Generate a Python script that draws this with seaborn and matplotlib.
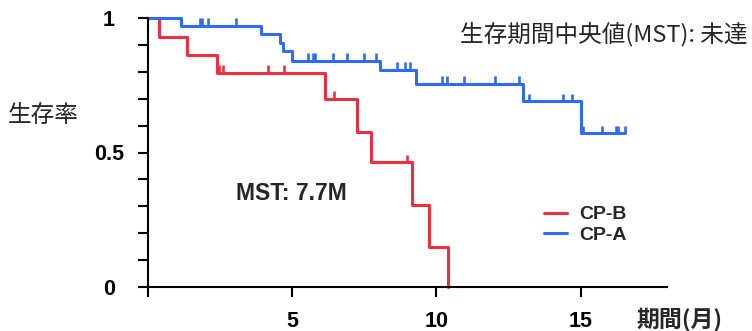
import numpy as np
import pandas as pd
import matplotlib
matplotlib.use('Agg')
import matplotlib.pyplot as plt
import seaborn as sns

# 生存曲線
groups = ['CP-B', 'CP-A']
b_time = [0, 0.38, 1.36, 2.38, 6.14, 7.25, 7.73, 9.17, 9.74, 10.39]
b_surv = [1, 0.928, 0.861, 0.796, 0.699, 0.578, 0.463, 0.303, 0.150, 0]
b_cens = [2.46, 2.61, 4.15, 4.71, 6.45, 8.99]

a_time = [0, 1.14, 3.91, 4.58, 4.67, 4.98, 8.04, 9.29, 13.01, 15.03, 16.53]
a_surv = [1, 0.971, 0.942, 0.907, 0.876, 0.842, 0.808, 0.756, 0.690, 0.572, 0.572]
a_cens = [1.80, 1.88, 2.07, 3.04, 5.56, 5.71, 5.79, 6.42, 6.91, 7.49, 7.90,
          8.62, 8.91, 9.08, 10.18, 10.37, 10.96, 12.05, 12.87, 13.22, 14.39,
          14.69, 15.09, 15.76, 16.22, 16.30, 16.53]

x_ticks = [0, 5, 10, 15]
x_labels = ['', '5', '10', '15']
y_ticks = np.round(np.arange(0, 1.01, 0.1), 1)
y_labels = ['0', '', '', '', '', '0.5', '', '', '', '', '1']

palette = {'CP-B': '#ee2f42', 'CP-A': '#2f6cf2'}


def censor_level(times, survs, cens):
    # 打ち切り時点の生存率を階段関数から取る
    idx = np.searchsorted(times, cens, side='right') - 1
    return [survs[i] for i in idx]


def main():
    curves = pd.concat([
        pd.DataFrame({'time': b_time, 'surv': b_surv, 'group': 'CP-B'}),
        pd.DataFrame({'time': a_time, 'surv': a_surv, 'group': 'CP-A'}),
    ], ignore_index=True)
    cens = pd.concat([
        pd.DataFrame({'time': b_cens, 'surv': censor_level(b_time, b_surv, b_cens), 'group': 'CP-B'}),
        pd.DataFrame({'time': a_cens, 'surv': censor_level(a_time, a_surv, a_cens), 'group': 'CP-A'}),
    ], ignore_index=True)

    sns.set_style('white')
    plt.rcParams['font.family'] = ['Liberation Sans', 'Noto Sans CJK JP']

    fig = plt.figure(figsize=(7.52, 3.31), dpi=100)
    ax = fig.add_axes([148 / 752, 44 / 331, 519 / 752, 269 / 331])

    sns.lineplot(data=curves, x='time', y='surv', hue='group', hue_order=groups,
                 palette=palette, estimator=None, drawstyle='steps-post',
                 linewidth=2.2, clip_on=False, ax=ax)
    sns.scatterplot(data=cens, x='time', y='surv', hue='group', hue_order=groups,
                    palette=palette, marker=2, s=30, linewidth=1.9,
                    legend=False, clip_on=False, ax=ax)

    ax.set_xlim(0, 18)
    ax.set_ylim(0, 1)
    for s in ['top', 'right']:
        ax.spines[s].set_visible(False)
    for s in ['left', 'bottom']:
        ax.spines[s].set_color('black')
        ax.spines[s].set_linewidth(1.5)

    ax.set_xticks(x_ticks, x_labels, fontsize=15.5, fontweight='bold')
    ax.set_yticks(y_ticks, y_labels, fontsize=15.5, fontweight='bold')
    for lab in ax.get_yticklabels():
        lab.set_ha('center')
    ax.tick_params(axis='x', bottom=True, direction='out', length=7, width=1.5,
                   pad=10, colors='black')
    ax.tick_params(axis='y', left=True, direction='out', length=7, width=1.5,
                   pad=21, colors='black')
    ax.set_xlabel('')
    ax.set_ylabel('')

    fig.text(43 / 752, 1 - 115 / 331, '生存率', fontsize=17,
             family=['Noto Sans CJK JP'], ha='center', va='center')
    fig.text(680 / 752, 1 - 319 / 331, '期間(月)', fontsize=16.5, fontweight='bold',
             family=['Noto Sans CJK JP'], ha='center', va='center')
    fig.text(604 / 752, 1 - 34 / 331, '生存期間中央値(MST): 未達', fontsize=17,
             family=['Noto Sans CJK JP'], ha='center', va='center')
    fig.text(291 / 752, 1 - 194 / 331, 'MST: 7.7M', fontsize=16.5, fontweight='bold',
             ha='center', va='center')

    ax.legend(loc='upper left', bbox_to_anchor=(536 / 752, 1 - 198 / 331),
              bbox_transform=fig.transFigure, frameon=False,
              prop={'size': 14, 'weight': 'bold'}, handlelength=1.2,
              handletextpad=0.6, labelspacing=0.15, borderaxespad=0)

    fig.savefig('out.png', dpi=100)


if __name__ == '__main__':
    main()
